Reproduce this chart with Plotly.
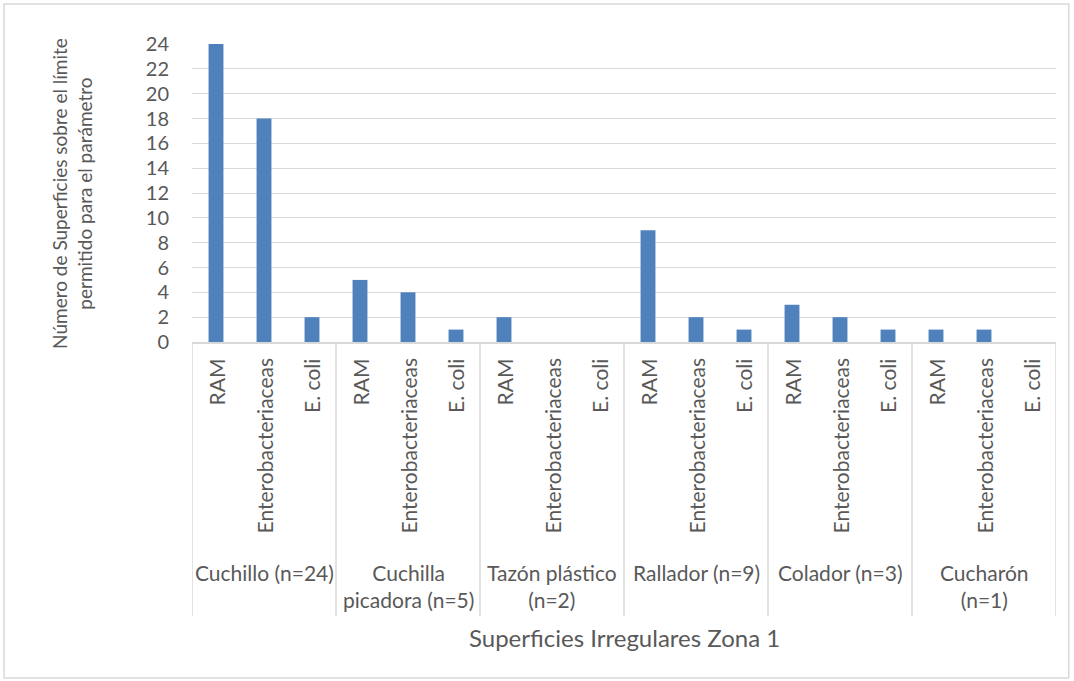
import plotly.graph_objects as go

# Surfaces grouped by utensil, three microbiological parameters each
groups = ["Cuchillo (n=24)", "Cuchilla<br>picadora (n=5)", "Tazón plástico<br>(n=2)",
          "Rallador (n=9)", "Colador (n=3)", "Cucharón<br>(n=1)"]
parameters = ["RAM", "Enterobacteriaceas", "E. coli"]
counts = [
    [24, 18, 2],   # Cuchillo
    [5, 4, 1],     # Cuchilla picadora
    [2, 0, 0],     # Tazón plástico
    [9, 2, 1],     # Rallador
    [3, 2, 1],     # Colador
    [1, 1, 0],     # Cucharón
]
y_ticks = list(range(0, 25, 2))

FONT = "Lato, 'Open Sans', sans-serif"
TXT = "#595959"
GRID = "#d9d9d9"

n_par = len(parameters)
x_pos = []
y_val = []
for g, row in enumerate(counts):
    for p, v in enumerate(row):
        x_pos.append(g * n_par + p)
        y_val.append(v)

fig = go.Figure(go.Bar(x=x_pos, y=y_val, marker=dict(color="#4f81bd", line_width=0),
                       width=0.31, hoverinfo="y"))

annotations = []
shapes = []
# rotated parameter labels below each bar
for i in x_pos:
    annotations.append(dict(x=i, y=-0.05, xref="x", yref="paper", text=parameters[i % n_par],
                            textangle=-90, xanchor="center", yanchor="top", showarrow=False,
                            font=dict(family=FONT, size=21, color=TXT)))
# group labels and divider lines
for g, name in enumerate(groups):
    annotations.append(dict(x=g * n_par + (n_par - 1) / 2, y=-0.725, xref="x", yref="paper",
                            text=name, xanchor="center", yanchor="top", showarrow=False,
                            font=dict(family=FONT, size=21, color=TXT)))
for g in range(len(groups) + 1):
    xb = g * n_par - 0.5
    shapes.append(dict(type="line", xref="x", yref="paper", x0=xb, x1=xb, y0=0, y1=-0.92,
                       line=dict(color=GRID, width=1.5)))

# axis titles
annotations.append(dict(x=0.5, y=-0.99, xref="paper", yref="paper",
                        text="Superficies Irregulares Zona 1", xanchor="center", yanchor="middle",
                        showarrow=False, font=dict(family=FONT, size=24, color=TXT)))
annotations.append(dict(x=-0.139, y=0.5, xref="paper", yref="paper",
                        text="Número de Superficies sobre el límite<br>permitido para el parámetro",
                        textangle=-90, xanchor="center", yanchor="middle", showarrow=False,
                        font=dict(family=FONT, size=19, color=TXT)))

# outer chart border
shapes.append(dict(type="rect", xref="paper", yref="paper", x0=-0.2176, x1=1.0148,
                   y0=-1.1275, y1=1.134, line=dict(color=GRID, width=1.5), layer="below"))

fig.update_layout(
    width=1074, height=681,
    margin=dict(l=192, r=18, t=44, b=339),
    paper_bgcolor="white", plot_bgcolor="white",
    showlegend=False,
    xaxis=dict(range=[-0.5, len(x_pos) - 0.5], showticklabels=False, showgrid=False,
               zeroline=False, showline=True, linecolor=GRID, linewidth=1.5, ticks=""),
    yaxis=dict(range=[0, 24], tickvals=y_ticks, showgrid=True, gridcolor=GRID, gridwidth=1,
               zeroline=False, showline=False, ticks="", ticklabelstandoff=22,
               tickfont=dict(family=FONT, size=20, color=TXT)),
    annotations=annotations,
    shapes=shapes,
)

fig.write_html("out.html")
